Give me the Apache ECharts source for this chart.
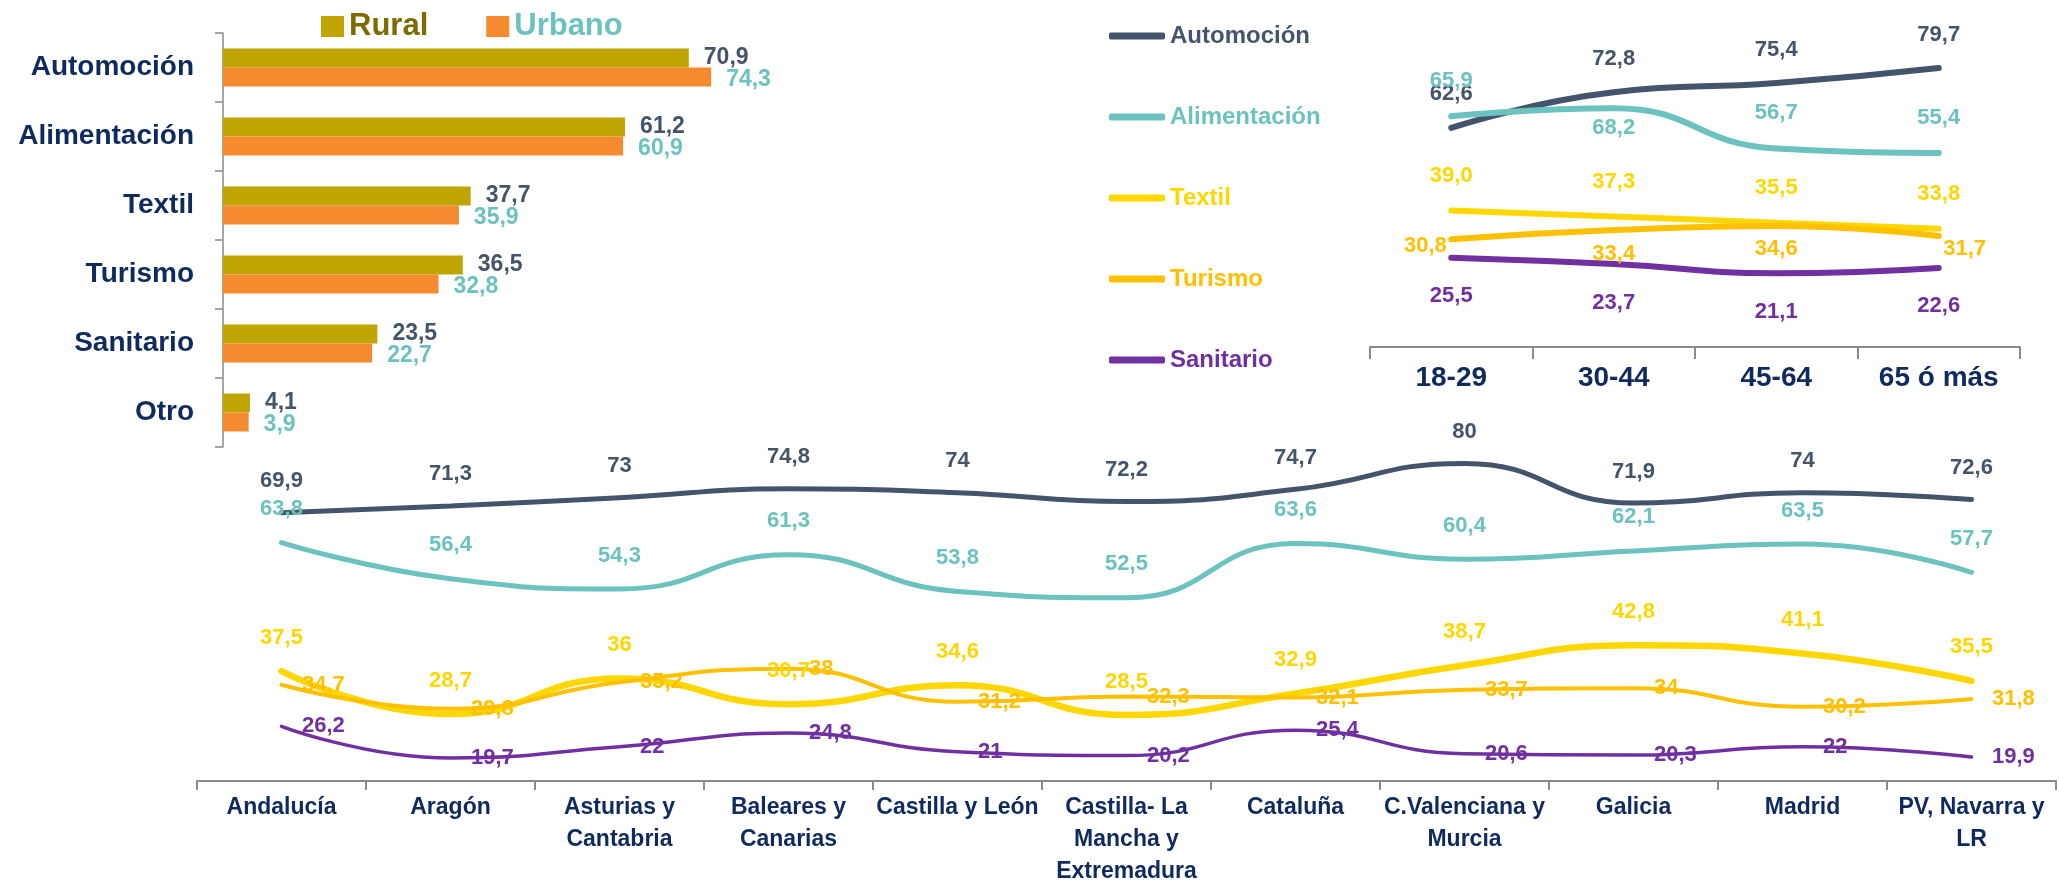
<!DOCTYPE html>
<html>
<head>
<meta charset="utf-8">
<script src="https://cdn.jsdelivr.net/npm/echarts@6/dist/echarts.min.js"></script>
<style>
  body { margin: 0; background: #fff; }
  #chart { width: 2059px; height: 888px; }
</style>
</head>
<body>
<div id="chart"></div>
<script>
// datos: sectores (barras rural / urbano)
const sectores = ['Automoción', 'Alimentación', 'Textil', 'Turismo', 'Sanitario', 'Otro']
const rural = [70.9, 61.2, 37.7, 36.5, 23.5, 4.1]
const urbano = [74.3, 60.9, 35.9, 32.8, 22.7, 3.9]

// datos: por edad
const edades = ['18-29', '30-44', '45-64', '65 ó más']
const edadAutomocion = [62.6, 72.8, 75.4, 79.7]
const edadAlimentacion = [65.9, 68.2, 56.7, 55.4]
const edadTextil = [39.0, 37.3, 35.5, 33.8]
const edadTurismo = [30.8, 33.4, 34.6, 31.7]
const edadSanitario = [25.5, 23.7, 21.1, 22.6]

// datos: por region
const regiones = ['Andalucía', 'Aragón', 'Asturias y\nCantabria', 'Baleares y\nCanarias', 'Castilla y León',
  'Castilla- La\nMancha y\nExtremadura', 'Cataluña', 'C.Valenciana y\nMurcia', 'Galicia', 'Madrid', 'PV, Navarra y\nLR']
const regAutomocion = [69.9, 71.3, 73, 74.8, 74, 72.2, 74.7, 80, 71.9, 74, 72.6]
const regAlimentacion = [63.8, 56.4, 54.3, 61.3, 53.8, 52.5, 63.6, 60.4, 62.1, 63.5, 57.7]
const regTextil = [37.5, 28.7, 36, 30.7, 34.6, 28.5, 32.9, 38.7, 42.8, 41.1, 35.5]
const regTurismo = [34.7, 29.8, 35.2, 38, 31.2, 32.3, 32.1, 33.7, 34, 30.2, 31.8]
const regSanitario = [26.2, 19.7, 22, 24.8, 21, 20.2, 25.4, 20.6, 20.3, 22, 19.9]

const FONT = "'Liberation Sans', Arial, sans-serif"
const NAVY = '#0f2a5e'
const GRIS = '#8a8a8a'
const colores = {
  'Automoción': '#44546A',
  'Alimentación': '#6BC2BF',
  'Textil': '#FFD700',
  'Turismo': '#FFC000',
  'Sanitario': '#7030A0'
}

const coma1 = (p) => p.value.toFixed(1).replace('.', ',')
const coma = (p) => String(p.value).replace('.', ',')

// pone etiquetas especiales en algunos puntos
function conEtiquetas(values, overrides) {
  return values.map((v, i) => (overrides && overrides[i]) ? { value: v, label: overrides[i] } : v)
}

function serieLinea(name, data, xIdx, width, label, fmt, overrides) {
  return {
    name: name,
    type: 'line',
    xAxisIndex: xIdx,
    yAxisIndex: xIdx,
    smooth: true,
    symbol: 'circle',
    symbolSize: 1,
    data: conEtiquetas(data, overrides),
    lineStyle: { color: colores[name], width: width, cap: 'round' },
    itemStyle: { color: colores[name] },
    label: Object.assign({
      show: true,
      color: colores[name],
      fontFamily: FONT,
      fontWeight: 'bold',
      fontSize: 22,
      formatter: fmt
    }, label)
  }
}

let chart = echarts.init(document.getElementById('chart'))

let option = {
  animation: false,
  backgroundColor: '#fff',
  legend: [
    {
      data: [
        { name: 'Rural', textStyle: { color: '#7F6A00' } },
        { name: 'Urbano', textStyle: { color: '#6BC2BF' } }
      ],
      left: 316,
      top: 6,
      icon: 'rect',
      itemWidth: 23,
      itemHeight: 21,
      itemGap: 58,
      textStyle: { fontFamily: FONT, fontWeight: 'bold', fontSize: 31 }
    },
    {
      data: Object.keys(colores).map((n) => ({ name: n, textStyle: { color: colores[n] } })),
      orient: 'vertical',
      left: 1104,
      top: 16,
      icon: 'roundRect',
      itemWidth: 56,
      itemHeight: 7,
      itemGap: 51,
      textStyle: { fontFamily: FONT, fontWeight: 'bold', fontSize: 24, lineHeight: 30 }
    }
  ],
  grid: [
    { left: 223, top: 33, width: 657, height: 414 },
    { left: 1370, top: 32, width: 650, height: 315 },
    { left: 197, top: 439, width: 1859, height: 346 }
  ],
  xAxis: [
    { gridIndex: 0, type: 'value', min: 0, max: 100, show: false },
    {
      gridIndex: 1, type: 'category', data: edades,
      axisLine: { lineStyle: { color: GRIS, width: 2 } },
      axisTick: { show: true, length: 12, lineStyle: { color: GRIS, width: 2 } },
      axisLabel: { color: NAVY, fontFamily: FONT, fontWeight: 'bold', fontSize: 28, margin: 17, interval: 0 }
    },
    {
      gridIndex: 2, type: 'category', data: regiones,
      axisLine: { lineStyle: { color: GRIS, width: 2 } },
      axisTick: { show: true, length: 9, lineStyle: { color: GRIS, width: 2 } },
      axisLabel: { color: NAVY, fontFamily: FONT, fontWeight: 'bold', fontSize: 23, lineHeight: 32, margin: 11, interval: 0 }
    }
  ],
  yAxis: [
    {
      gridIndex: 0, type: 'category', data: sectores, inverse: true,
      axisLine: { lineStyle: { color: GRIS, width: 1.5 } },
      axisTick: { show: true, length: 8, lineStyle: { color: GRIS, width: 1.5 } },
      axisLabel: { color: NAVY, fontFamily: FONT, fontWeight: 'bold', fontSize: 28, margin: 29 }
    },
    { gridIndex: 1, type: 'value', min: 0, max: 90, show: false },
    { gridIndex: 2, type: 'value', min: 15, max: 85, show: false }
  ],
  series: [
    {
      name: 'Rural', type: 'bar', xAxisIndex: 0, yAxisIndex: 0,
      data: rural, barWidth: 19, barGap: '0%',
      itemStyle: { color: '#C0A400' },
      label: { show: true, position: 'right', distance: 15, color: '#44546A', fontFamily: FONT, fontWeight: 'bold', fontSize: 23, formatter: coma1 }
    },
    {
      name: 'Urbano', type: 'bar', xAxisIndex: 0, yAxisIndex: 0,
      data: urbano, barWidth: 19, barGap: '0%',
      itemStyle: { color: '#F58A2E' },
      label: { show: true, position: 'right', distance: 15, offset: [0, 3], color: '#6BC2BF', fontFamily: FONT, fontWeight: 'bold', fontSize: 23, formatter: coma1 }
    },

    // por edad
    serieLinea('Automoción', edadAutomocion, 1, 6, { position: 'top', distance: 22 }, coma1),
    serieLinea('Alimentación', edadAlimentacion, 1, 6, { position: 'top', distance: 24 }, coma1,
      { 1: { position: 'bottom', distance: 8 } }),
    serieLinea('Textil', edadTextil, 1, 6, { position: 'top', distance: 23 }, coma1),
    serieLinea('Turismo', edadTurismo, 1, 6, { position: 'bottom', distance: 12 }, coma1,
      { 0: { position: 'left', distance: 4, offset: [0, 7] }, 3: { position: 'right', distance: 4, offset: [0, 13] } }),
    serieLinea('Sanitario', edadSanitario, 1, 6, { position: 'bottom', distance: 27 }, coma1),

    // por region
    serieLinea('Automoción', regAutomocion, 2, 5, { position: 'top', distance: 20 }, coma),
    serieLinea('Alimentación', regAlimentacion, 2, 5, { position: 'top', distance: 22 }, coma),
    serieLinea('Textil', regTextil, 2, 6.5, { position: 'top', distance: 22 }, coma),
    serieLinea('Turismo', regTurismo, 2, 4, { position: 'right', distance: 20 }, coma),
    serieLinea('Sanitario', regSanitario, 2, 3.5, { position: 'right', distance: 20 }, coma)
  ]
}

chart.setOption(option)
</script>
</body>
</html>
